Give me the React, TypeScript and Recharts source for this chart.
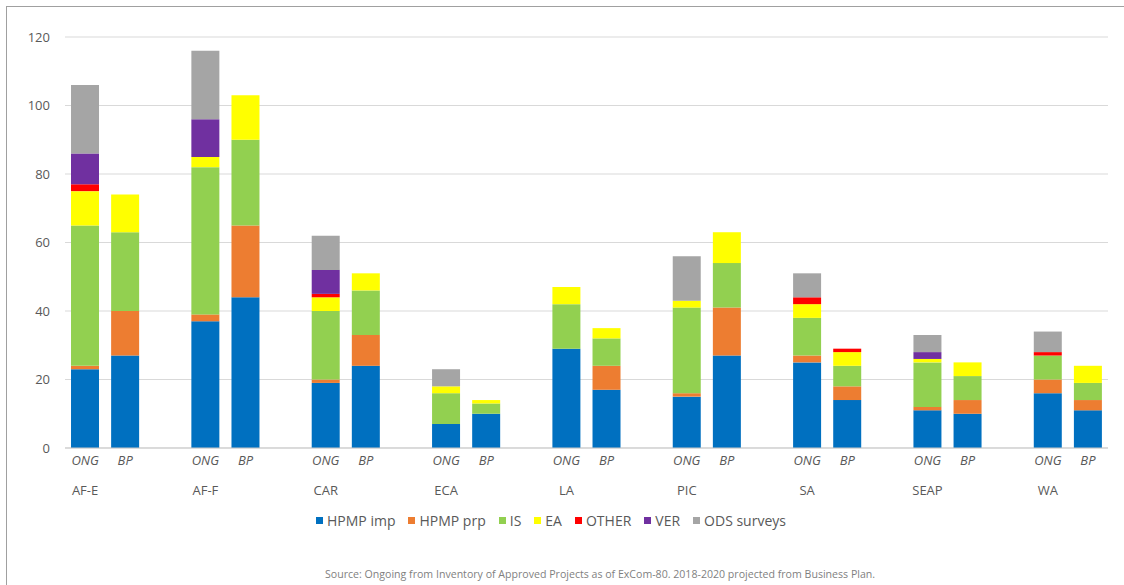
import React from 'react';
import { BarChart, Bar, XAxis, YAxis, CartesianGrid, Legend } from 'recharts';

const groups = ['AF-E', 'AF-F', 'CAR', 'ECA', 'LA', 'PIC', 'SA', 'SEAP', 'WA'];
const subLabels = ['ONG', 'BP'];

const hpmpImpONG = [23, 37, 19, 7, 29, 15, 25, 11, 16];
const hpmpImpBP = [27, 44, 24, 10, 17, 27, 14, 10, 11];
const hpmpPrpONG = [1, 2, 1, 0, 0, 1, 2, 1, 4];
const hpmpPrpBP = [13, 21, 9, 0, 7, 14, 4, 4, 3];
const isONG = [41, 43, 20, 9, 13, 25, 11, 13, 7];
const isBP = [23, 25, 13, 3, 8, 13, 6, 7, 5];
const eaONG = [10, 3, 4, 2, 5, 2, 4, 1, 0];
const eaBP = [11, 13, 5, 1, 3, 9, 4, 4, 5];
const otherONG = [2, 0, 1, 0, 0, 0, 2, 0, 1];
const otherBP = [0, 0, 0, 0, 0, 0, 1, 0, 0];
const verONG = [9, 11, 7, 0, 0, 0, 0, 2, 0];
const verBP = [0, 0, 0, 0, 0, 0, 0, 0, 0];
const odsONG = [20, 20, 10, 5, 0, 13, 7, 5, 6];
const odsBP = [0, 0, 0, 0, 0, 0, 0, 0, 0];

const yTicks = [0, 20, 40, 60, 80, 100, 120];

const series = [
  { key: 'hpmpImp', name: 'HPMP imp', color: '#0070c0', ong: hpmpImpONG, bp: hpmpImpBP },
  { key: 'hpmpPrp', name: 'HPMP prp', color: '#ed7d31', ong: hpmpPrpONG, bp: hpmpPrpBP },
  { key: 'is', name: 'IS', color: '#92d050', ong: isONG, bp: isBP },
  { key: 'ea', name: 'EA', color: '#ffff00', ong: eaONG, bp: eaBP },
  { key: 'other', name: 'OTHER', color: '#ff0000', ong: otherONG, bp: otherBP },
  { key: 'ver', name: 'VER', color: '#7030a0', ong: verONG, bp: verBP },
  { key: 'ods', name: 'ODS surveys', color: '#a5a5a5', ong: odsONG, bp: odsBP },
];

const data: any[] = [];
groups.forEach((g, i) => {
  subLabels.forEach((s) => {
    const row: any = { key: `${g}|${s}` };
    series.forEach((se) => {
      row[se.key] = s === 'ONG' ? se.ong[i] : se.bp[i];
    });
    data.push(row);
  });
  if (i < groups.length - 1) data.push({ key: `gap${i}` });
});

const FONT = '"Open Sans", "Liberation Sans", sans-serif';
const TEXT = '#595959';

const CatTick = (props: any) => {
  const { x, y, payload } = props;
  const v: string = String(payload.value);
  if (!v.includes('|')) return <g />;
  const [g, s] = v.split('|');
  return (
    <g>
      <text x={x} y={y + 17} textAnchor="middle" fontStyle="italic" fontSize={13} fill={TEXT} fontFamily={FONT}>
        {s}
      </text>
      {s === 'ONG' && (
        <text x={x} y={y + 47} textAnchor="middle" fontSize={13} fill={TEXT} fontFamily={FONT}>
          {g}
        </text>
      )}
    </g>
  );
};

const LegendContent = () => (
  <div
    style={{
      height: 24,
      display: 'flex',
      alignItems: 'center',
      paddingLeft: 316,
      fontFamily: FONT,
      fontSize: 14,
      color: TEXT,
    }}
  >
    {series.map((s) => (
      <div key={s.key} style={{ display: 'flex', alignItems: 'center', marginRight: 13 }}>
        <span style={{ width: 7, height: 7, background: s.color, display: 'inline-block', marginRight: 4 }} />
        <span>{s.name}</span>
      </div>
    ))}
  </div>
);

export default function App() {
  return (
    <div style={{ position: 'absolute', left: 0, top: 0, width: 1124, height: 585, background: '#fff' }}>
      <div
        style={{
          position: 'absolute',
          left: 6,
          top: 6,
          width: 1118,
          height: 579,
          borderLeft: '1px solid #a0a0a0',
          borderTop: '1px solid #a0a0a0',
        }}
      />
      <BarChart
        width={1124}
        height={585}
        data={data}
        margin={{ top: 37, right: 16, left: 0, bottom: 53 }}
        barCategoryGap="15%"
      >
        <CartesianGrid vertical={false} stroke="#d9d9d9" />
        <XAxis
          dataKey="key"
          interval={0}
          tickLine={false}
          tickSize={0}
          tickMargin={0}
          height={60}
          axisLine={{ stroke: '#c9c9c9' }}
          tick={<CatTick />}
        />
        <YAxis
          width={65}
          domain={[0, 120]}
          ticks={yTicks}
          tickLine={false}
          axisLine={false}
          tickMargin={9}
          tick={{ fill: TEXT, fontSize: 13, fontFamily: FONT }}
        />
        <Legend verticalAlign="bottom" content={<LegendContent />} wrapperStyle={{ left: 0, width: 1124 }} />
        {series.map((s) => (
          <Bar key={s.key} dataKey={s.key} name={s.name} stackId="a" fill={s.color} isAnimationActive={false} />
        ))}
      </BarChart>
      <div
        style={{
          position: 'absolute',
          left: 325,
          top: 567,
          fontFamily: FONT,
          fontSize: 10.6,
          color: '#7f7f7f',
          whiteSpace: 'nowrap',
        }}
      >
        Source: Ongoing from Inventory of Approved Projects as of ExCom-80. 2018-2020 projected from Business Plan.
      </div>
    </div>
  );
}
